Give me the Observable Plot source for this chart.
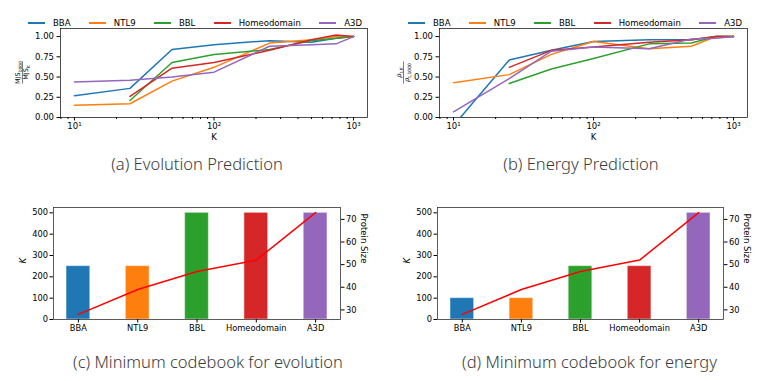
<!DOCTYPE html>
<html><head><meta charset="utf-8">
<script src="https://cdn.jsdelivr.net/npm/d3@7"></script>
<script src="https://cdn.jsdelivr.net/npm/@observablehq/plot@0.6"></script>
<style>
body{margin:0;background:#fff;}
#root{position:relative;width:761px;height:381px;overflow:hidden;font-family:"DejaVu Sans",sans-serif;}
.panel{position:absolute;}
.legend{position:absolute;display:flex;justify-content:space-between;align-items:center;font-family:"DejaVu Sans",sans-serif;font-size:8.5px;color:#000;height:10px;line-height:10px;}
.legend .item{display:flex;align-items:center;}
.legend .sw{display:inline-block;width:17px;height:1.5px;margin-right:8px;}
.caption{position:absolute;transform:translate(-50%,-50%);white-space:nowrap;font-family:"Noto Sans",sans-serif;font-weight:300;font-size:16.5px;color:#3a3a3a;}
</style></head>
<body><div id="root"></div>
<script>
const series = ["BBA", "NTL9", "BBL", "Homeodomain", "A3D"];
const colors = ["#1f77b4", "#ff7f0e", "#2ca02c", "#d62728", "#9467bd"];
const kValues = [10, 25, 50, 100, 250, 500, 750, 1000];

// (a) Evolution prediction: MJS_1000 / MJS_K
const evoBBA  = [0.27, 0.36, 0.84, 0.90, 0.95, 0.93, 0.98, 1.00];
const evoNTL9 = [0.15, 0.17, 0.45, 0.62, 0.92, 0.96, 1.00, 1.00];
const evoBBL  = [null, 0.21, 0.68, 0.78, 0.84, 0.95, 0.98, 1.00];
const evoHomeo = [null, 0.26, 0.61, 0.68, 0.83, 0.96, 1.02, 1.00];
const evoA3D  = [0.44, 0.46, 0.50, 0.56, 0.88, 0.90, 0.91, 1.00];

// (b) Energy prediction: rho_{t,K} / rho_{t,1000}
const enBBA  = [-0.10, 0.71, 0.83, 0.94, 0.96, 0.96, 1.00, 1.00];
const enNTL9 = [0.43, 0.53, 0.78, 0.94, 0.85, 0.88, 1.00, 1.00];
const enBBL  = [null, 0.42, 0.60, 0.73, 0.91, 0.92, 1.00, 1.00];
const enHomeo = [null, 0.62, 0.83, 0.87, 0.93, 0.96, 1.00, 1.00];
const enA3D  = [0.07, 0.48, 0.82, 0.87, 0.85, 0.97, 0.98, 1.00];

// (c), (d) minimum codebook and protein size
const minKEvolution = [250, 250, 500, 500, 500];
const minKEnergy = [100, 100, 250, 250, 500];
const proteinSize = [28, 39, 47, 52, 73];

const xMajorTicks = [10, 100, 1000];
const yTicksLine = [0, 0.25, 0.5, 0.75, 1];
const yTicksK = [0, 100, 200, 300, 400, 500];
const yTicksSize = [30, 40, 50, 60, 70];

const root = document.getElementById("root");
const sup = {1: "\u00b9", 2: "\u00b2", 3: "\u00b3"};
const xDomain = [10 ** 0.9, 10 ** 3.1];
const minorTicks = [];
[1, 10, 100, 1000].forEach(dec => { for (let m = 2; m <= 9; m++) { const t = dec * m; if (t >= xDomain[0] && t <= xDomain[1]) minorTicks.push(t); } });

function place(el, left, top) {
  el.classList.add("panel");
  el.style.left = left + "px"; el.style.top = top + "px";
  root.appendChild(el);
}

function legend(left, top, width) {
  const d = document.createElement("div");
  d.className = "legend";
  d.style.left = left + "px"; d.style.top = (top - 5) + "px"; d.style.width = width + "px";
  series.forEach((s, i) => {
    const it = document.createElement("div"); it.className = "item";
    const sw = document.createElement("span"); sw.className = "sw"; sw.style.background = colors[i];
    const tx = document.createElement("span"); tx.textContent = s;
    it.appendChild(sw); it.appendChild(tx); d.appendChild(it);
  });
  root.appendChild(d);
}

function caption(text, cx, cy) {
  const d = document.createElement("div");
  d.className = "caption"; d.textContent = text;
  d.style.left = cx + "px"; d.style.top = cy + "px";
  root.appendChild(d);
}

function fraction(svg, cx, cy, num, den) {
  const g = d3.select(svg).append("g")
    .attr("transform", `translate(${cx},${cy}) rotate(-90)`)
    .attr("font-family", "DejaVu Sans").attr("font-size", 6.5).attr("fill", "#000");
  const write = (y, parts) => {
    const t = g.append("text").attr("y", y).attr("text-anchor", "middle");
    t.append("tspan").attr("font-style", parts[2] ? "italic" : null).text(parts[0]);
    t.append("tspan").attr("font-size", 4.5).attr("dy", 1.6).text(parts[1]);
  };
  write(-2.2, num);
  g.append("line").attr("x1", -11).attr("x2", 11).attr("y1", 0).attr("y2", 0).attr("stroke", "#000").attr("stroke-width", 0.5);
  write(5.8, den);
}

function lineChart(vals, left, top, width, mL, mR) {
  const rows = [];
  series.forEach((s, j) => vals[j].forEach((v, i) => rows.push({k: kValues[i], v, s})));
  const p = Plot.plot({
    width, height: 150, marginTop: 28, marginBottom: 33, marginLeft: mL, marginRight: mR,
    style: {fontFamily: "DejaVu Sans", fontSize: "8.5px", color: "#000", background: "transparent", overflow: "visible"},
    x: {type: "log", domain: xDomain},
    y: {domain: [0, 1.1]},
    color: {domain: series, range: colors},
    marks: [
      Plot.line(rows, {x: "k", y: "v", z: "s", stroke: "s", strokeWidth: 1.5, clip: true}),
      Plot.frame({stroke: "#222", strokeWidth: 0.8}),
      Plot.axisX({ticks: xMajorTicks, tickFormat: d => "10" + sup[Math.round(Math.log10(d))], tickSize: 3.5, tickPadding: 2, label: null}),
      Plot.axisX({ticks: minorTicks, tickFormat: () => "", tickSize: 2, label: null}),
      Plot.axisY({ticks: yTicksLine, tickFormat: d3.format(".2f"), tickSize: 3.5, tickPadding: 3, label: null}),
      Plot.text(["K"], {text: d => d, frameAnchor: "bottom", dy: 22, fontSize: 8.5})
    ]
  });
  place(p, left, top);
  return p;
}

function barChart(kVals, left, top, width, mL, mR) {
  const rows = series.map((s, i) => ({i, s, k: kVals[i], size: proteinSize[i]}));
  const lo = d3.min(proteinSize), hi = d3.max(proteinSize), pad = (hi - lo) * 0.05;
  const yMax = d3.max(kVals) * 1.05;
  const toK = d3.scaleLinear().domain([lo - pad, hi + pad]).range([0, yMax]);
  const half = 0.2, xPad = (series.length - 1 + 2 * half) * 0.05;
  const p = Plot.plot({
    width, height: 150, marginTop: 17, marginBottom: 21, marginLeft: mL, marginRight: mR,
    style: {fontFamily: "DejaVu Sans", fontSize: "8.3px", color: "#000", background: "transparent", overflow: "visible"},
    x: {domain: [-half - xPad, series.length - 1 + half + xPad]},
    y: {domain: [0, yMax]},
    color: {domain: series, range: colors},
    marks: [
      Plot.rect(rows, {x1: d => d.i - half, x2: d => d.i + half, y1: 0, y2: "k", fill: "s", stroke: "white", strokeOpacity: 0.45, strokeWidth: 1}),
      Plot.line(rows, {x: "i", y: d => toK(d.size), stroke: "red", strokeWidth: 1.5}),
      Plot.frame({stroke: "#333", strokeWidth: 0.8}),
      Plot.axisX({ticks: series.map((s, i) => i), tickFormat: i => series[i], tickSize: 3.5, tickPadding: 2, label: null}),
      Plot.axisY({ticks: yTicksK, tickFormat: d => d, tickSize: 3.5, tickPadding: 2, label: null}),
      Plot.axisY({anchor: "right", ticks: yTicksSize.map(toK), tickFormat: v => Math.round(toK.invert(v)), tickSize: 3.5, tickPadding: 2, label: null}),
      Plot.text(["K"], {text: d => d, frameAnchor: "left", dx: -30, rotate: -90, fontSize: 8.5, fontStyle: "italic"}),
      Plot.text(["Protein Size"], {text: d => d, frameAnchor: "right", dx: 23, rotate: 90, fontSize: 8.5})
    ]
  });
  place(p, left, top);
  return p;
}

const pa = lineChart([evoBBA, evoNTL9, evoBBL, evoHomeo, evoA3D], 0, 0, 380, 60, 13);
fraction(pa, 22.5, 72.5, ["MJS", "1000"], ["MJS", "K"]);
legend(28, 23, 334);
caption("(a) Evolution Prediction", 197, 163);

const pb = lineChart([enBBA, enNTL9, enBBL, enHomeo, enA3D], 380, 0, 381, 59, 14);
fraction(pb, 23.5, 72.5, ["\u03c1", "t,K", true], ["\u03c1", "t,1000", true]);
legend(408, 23, 334);
caption("(b) Energy Prediction", 581, 163);

barChart(minKEvolution, 0, 190, 380, 53, 40);
caption("(c) Minimum codebook  for evolution", 208, 361);

barChart(minKEnergy, 380, 190, 381, 57, 38);
caption("(d) Minimum codebook for energy", 589.5, 361);
</script>
</body></html>
